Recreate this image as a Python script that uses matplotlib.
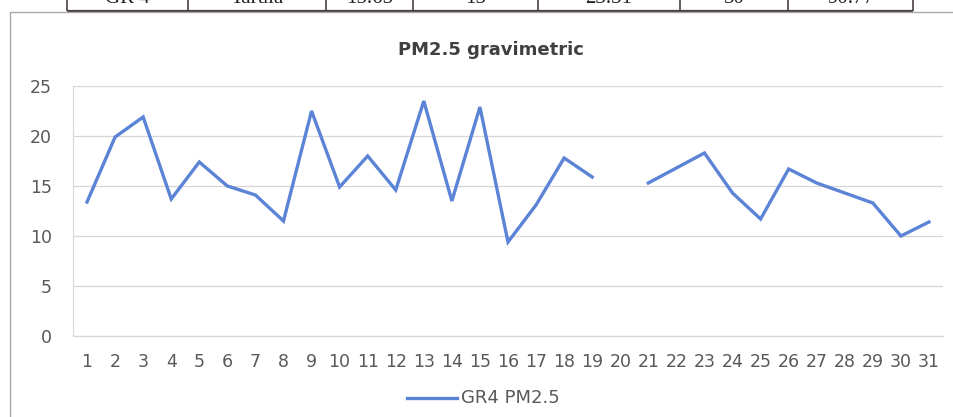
import numpy as np
import matplotlib
matplotlib.use("Agg")
import matplotlib.pyplot as plt
from matplotlib.patches import Rectangle

# Data (day 20 has no value)
days = list(range(1, 32))
pm25 = [13.4, 19.9, 21.9, 13.7, 17.4, 15.0, 14.1, 11.5, 22.5, 14.9,
        18.0, 14.6, 23.5, 13.5, 22.9, 9.4, 13.1, 17.8, 15.9, np.nan,
        15.3, 16.8, 18.3, 14.3, 11.7, 16.7, 15.3, 14.3, 13.3, 10.0, 11.4]
y_ticks = [0, 5, 10, 15, 20, 25]
series_name = "GR4 PM2.5"
title = "PM2.5 gravimetric"

# Bottom of the table row cut off above the chart
table_cells = ["GR 4", "Tarula", "15.65", "15", "23.31", "30", "90.77"]
table_edges = [67, 188, 326, 413, 538, 680, 788, 913]

W, H = 954, 417
fig = plt.figure(figsize=(W / 100, H / 100), dpi=100)
fig.patch.set_facecolor("white")

# chart frame
fig.patches.append(Rectangle((10 / W, -0.1), 1.2, (H - 12) / H + 0.1,
                             transform=fig.transFigure, fill=False,
                             edgecolor="#a8a8a8", lw=1.0))

# table strip at the top
ax_t = fig.add_axes([0, (H - 12) / H, 1, 12 / H])
ax_t.set_xlim(0, W)
ax_t.set_ylim(12, 0)
ax_t.axis("off")
ax_t.add_patch(Rectangle((table_edges[0], -1), table_edges[-1] - table_edges[0], 12,
                         facecolor="white", edgecolor="none", zorder=1))
ax_t.hlines(11, table_edges[0], table_edges[-1], color="#4a4040", lw=1.6, zorder=3)
ax_t.vlines(table_edges, 0, 11, color="#4a4040", lw=1.2, zorder=3)
for i, txt in enumerate(table_cells):
    xc = (table_edges[i] + table_edges[i + 1]) / 2
    ax_t.text(xc, 3, txt, ha="center", va="baseline", fontsize=15,
              family="Liberation Serif", color="#222222", clip_on=True)

# main plot area
ax = fig.add_axes([73 / W, (H - 336) / H, (943 - 73) / W, 250 / H])
ax.plot(days, pm25, color="#5B83D6", lw=2.4, solid_joinstyle="miter", zorder=3)
ax.set_xlim(0.5, 31.5)
ax.set_ylim(0, 25)
ax.set_yticks(y_ticks)
ax.set_xticks(days)
ax.set_xticklabels([str(d) for d in days])
ax.grid(axis="y", color="#d6d6d6", lw=0.9)
ax.axhline(0, color="#d6d6d6", lw=0.9, clip_on=False, zorder=1)
ax.set_axisbelow(True)
for s in ["top", "right", "bottom"]:
    ax.spines[s].set_visible(False)
ax.spines["left"].set_color("#d6d6d6")
ax.tick_params(length=0, labelsize=12.5, labelcolor="#595959")
ax.tick_params(axis="y", pad=15)
ax.tick_params(axis="x", pad=12)

fig.text(491 / W, (H - 50) / H, title, ha="center", va="center",
         fontsize=13, fontweight="bold", color="#404040")

# legend
ax_l = fig.add_axes([0, 0, 1, 1], facecolor="none")
ax_l.set_xlim(0, W)
ax_l.set_ylim(H, 0)
ax_l.axis("off")
ax_l.plot([407, 457], [398, 398], color="#5B83D6", lw=2.4)
ax_l.text(461, 398, series_name, ha="left", va="center", fontsize=13, color="#595959")

fig.savefig("out.png", dpi=100)
